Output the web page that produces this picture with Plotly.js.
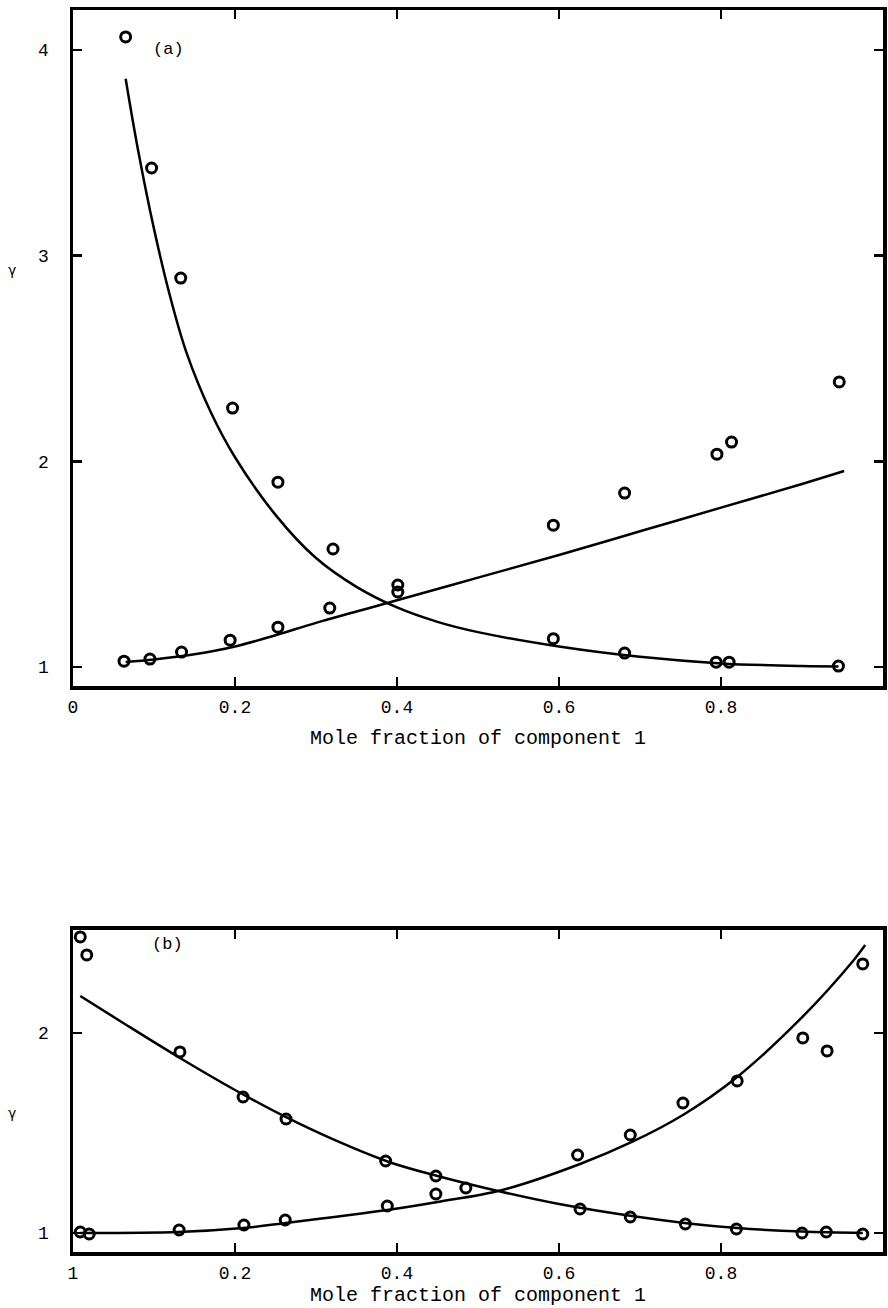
<!DOCTYPE html>
<html>
<head>
<meta charset="utf-8">
<script src="https://cdn.plot.ly/plotly-3.0.1.min.js"></script>
<style>html,body{margin:0;padding:0;background:#fff;}#chart{width:888px;height:1308px;}</style>
</head>
<body>
<div id="chart"></div>
<script>
// ---- Panel (a) data ----
const a_dec_x = [0.065, 0.097, 0.133, 0.197, 0.253, 0.321, 0.401, 0.593, 0.681, 0.794, 0.810, 0.945];
const a_dec_y = [4.063, 3.426, 2.891, 2.259, 1.899, 1.574, 1.399, 1.138, 1.068, 1.024, 1.024, 1.005];
const a_inc_x = [0.063, 0.095, 0.134, 0.194, 0.253, 0.317, 0.401, 0.593, 0.681, 0.795, 0.813, 0.946];
const a_inc_y = [1.029, 1.039, 1.073, 1.131, 1.194, 1.287, 1.365, 1.690, 1.846, 2.035, 2.094, 2.386];
const a_decfit_x = [0.065, 0.08, 0.1, 0.12, 0.14, 0.17, 0.2, 0.25, 0.3, 0.35, 0.4, 0.45, 0.5, 0.6, 0.7, 0.8, 0.9, 0.945];
const a_decfit_y = [3.86, 3.52, 3.13, 2.80, 2.53, 2.24, 2.02, 1.74, 1.53, 1.39, 1.29, 1.22, 1.17, 1.10, 1.05, 1.018, 1.005, 1.003];
const a_incfit_x = [0.065, 0.1, 0.15, 0.2, 0.25, 0.3, 0.35, 0.4, 0.5, 0.6, 0.7, 0.8, 0.9, 0.952];
const a_incfit_y = [1.025, 1.037, 1.062, 1.10, 1.155, 1.215, 1.27, 1.325, 1.435, 1.545, 1.66, 1.775, 1.89, 1.953];

// ---- Panel (b) data ----
const b_dec_x = [0.009, 0.017, 0.132, 0.210, 0.263, 0.386, 0.448, 0.485, 0.626, 0.688, 0.756, 0.819, 0.900, 0.930, 0.975];
const b_dec_y = [2.48, 2.39, 1.905, 1.68, 1.57, 1.36, 1.285, 1.225, 1.12, 1.08, 1.045, 1.02, 1.0, 1.005, 0.995];
const b_inc_x = [0.009, 0.020, 0.131, 0.211, 0.262, 0.388, 0.448, 0.623, 0.688, 0.753, 0.820, 0.901, 0.931, 0.975];
const b_inc_y = [1.005, 0.995, 1.015, 1.04, 1.065, 1.135, 1.195, 1.39, 1.49, 1.65, 1.76, 1.975, 1.91, 2.345];
const b_decfit_x = [0.009, 0.06, 0.13, 0.2, 0.26, 0.32, 0.39, 0.45, 0.53, 0.6, 0.69, 0.76, 0.82, 0.9, 0.975];
const b_decfit_y = [2.185, 2.055, 1.88, 1.715, 1.585, 1.47, 1.355, 1.285, 1.205, 1.145, 1.085, 1.048, 1.025, 1.007, 1.0];
const b_incfit_x = [0.009, 0.13, 0.21, 0.263, 0.388, 0.45, 0.53, 0.626, 0.69, 0.753, 0.82, 0.898, 0.963, 0.978];
const b_incfit_y = [1.0, 1.005, 1.025, 1.05, 1.115, 1.155, 1.215, 1.345, 1.455, 1.59, 1.78, 2.07, 2.36, 2.44];

// ---- Tick labels ----
const a_xtickvals = [0, 0.2, 0.4, 0.6, 0.8, 1];
const a_xticktext = ["0", "0.2", "0.4", "0.6", "0.8", "1"];
const b_xtickvals = [0, 0.2, 0.4, 0.6, 0.8, 1];
const b_xticktext = ["1", "0.2", "0.4", "0.6", "0.8", "1"];
const a_ytickvals = [1, 2, 3, 4];
const b_ytickvals = [1, 2];
const xTitle = "Mole fraction of component 1";

const MONO = "Liberation Mono, DejaVu Sans Mono, monospace";

function pts(x, y, xa, ya) {
  return {x: x, y: y, xaxis: xa, yaxis: ya, type: 'scatter', mode: 'markers', showlegend: false,
    marker: {symbol: 'circle-open', size: 10, color: '#000', line: {width: 3, color: '#000'}}};
}
function fit(x, y, xa, ya) {
  return {x: x, y: y, xaxis: xa, yaxis: ya, type: 'scatter', mode: 'lines', showlegend: false,
    line: {color: '#000', width: 2.5, shape: 'spline', smoothing: 1}};
}

const data = [
  fit(a_decfit_x, a_decfit_y, 'x', 'y'),
  fit(a_incfit_x, a_incfit_y, 'x', 'y'),
  pts(a_dec_x, a_dec_y, 'x', 'y'),
  pts(a_inc_x, a_inc_y, 'x', 'y'),
  fit(b_decfit_x, b_decfit_y, 'x2', 'y2'),
  fit(b_incfit_x, b_incfit_y, 'x2', 'y2'),
  pts(b_dec_x, b_dec_y, 'x2', 'y2'),
  pts(b_inc_x, b_inc_y, 'x2', 'y2')
];

function xax(tv, tt, anchor, standoff) {
  return {anchor: anchor, range: [0, 1], domain: [0, 1], tickmode: 'array', tickvals: tv, ticktext: tt,
    ticks: 'inside', ticklen: 9, tickwidth: 2.5, tickcolor: '#000', ticklabelstandoff: 2,
    showline: true, linewidth: 3.5, linecolor: '#000', mirror: 'ticks', showgrid: false, zeroline: false,
    tickfont: {family: MONO, size: 18, color: '#000'},
    title: {text: xTitle, font: {family: MONO, size: 20, color: '#000'}, standoff: standoff}, automargin: false};
}
function yax(tv, range, domain, anchor) {
  return {anchor: anchor, range: range, domain: domain, tickmode: 'array', tickvals: tv,
    ticks: 'inside', ticklen: 9, tickwidth: 2.5, tickcolor: '#000', ticklabelstandoff: 17,
    showline: true, linewidth: 3.5, linecolor: '#000', mirror: 'ticks', showgrid: false, zeroline: false,
    tickfont: {family: MONO, size: 18, color: '#000'}, automargin: false};
}

const layout = {
  width: 888, height: 1308,
  margin: {l: 73, r: 5, t: 10, b: 56},
  paper_bgcolor: '#fff', plot_bgcolor: '#fff',
  showlegend: false,
  xaxis: xax(a_xtickvals, a_xticktext, 'y', 14),
  yaxis: yax(a_ytickvals, [0.908, 4.194], [0.4557, 1], 'x'),
  xaxis2: xax(b_xtickvals, b_xticktext, 'y2', 0),
  yaxis2: yax(b_ytickvals, [0.905, 2.515], [0, 0.2593], 'x2'),
  annotations: [
    {xref: 'x', yref: 'y', x: 0.118, y: 4.0, text: '(a)', showarrow: false, font: {family: MONO, size: 17, color: '#000'}},
    {xref: 'x2', yref: 'y2', x: 0.117, y: 2.44, text: '(b)', showarrow: false, font: {family: MONO, size: 17, color: '#000'}},
    {xref: 'paper', yref: 'y', x: -0.075, y: 2.93, xanchor: 'center', text: 'γ', showarrow: false, font: {family: 'DejaVu Sans', size: 14, color: '#000'}},
    {xref: 'paper', yref: 'y2', x: -0.075, y: 1.6, xanchor: 'center', text: 'γ', showarrow: false, font: {family: 'DejaVu Sans', size: 14, color: '#000'}}
  ]
};

Plotly.newPlot('chart', data, layout, {displayModeBar: false, staticPlot: true});
</script>
</body>
</html>
